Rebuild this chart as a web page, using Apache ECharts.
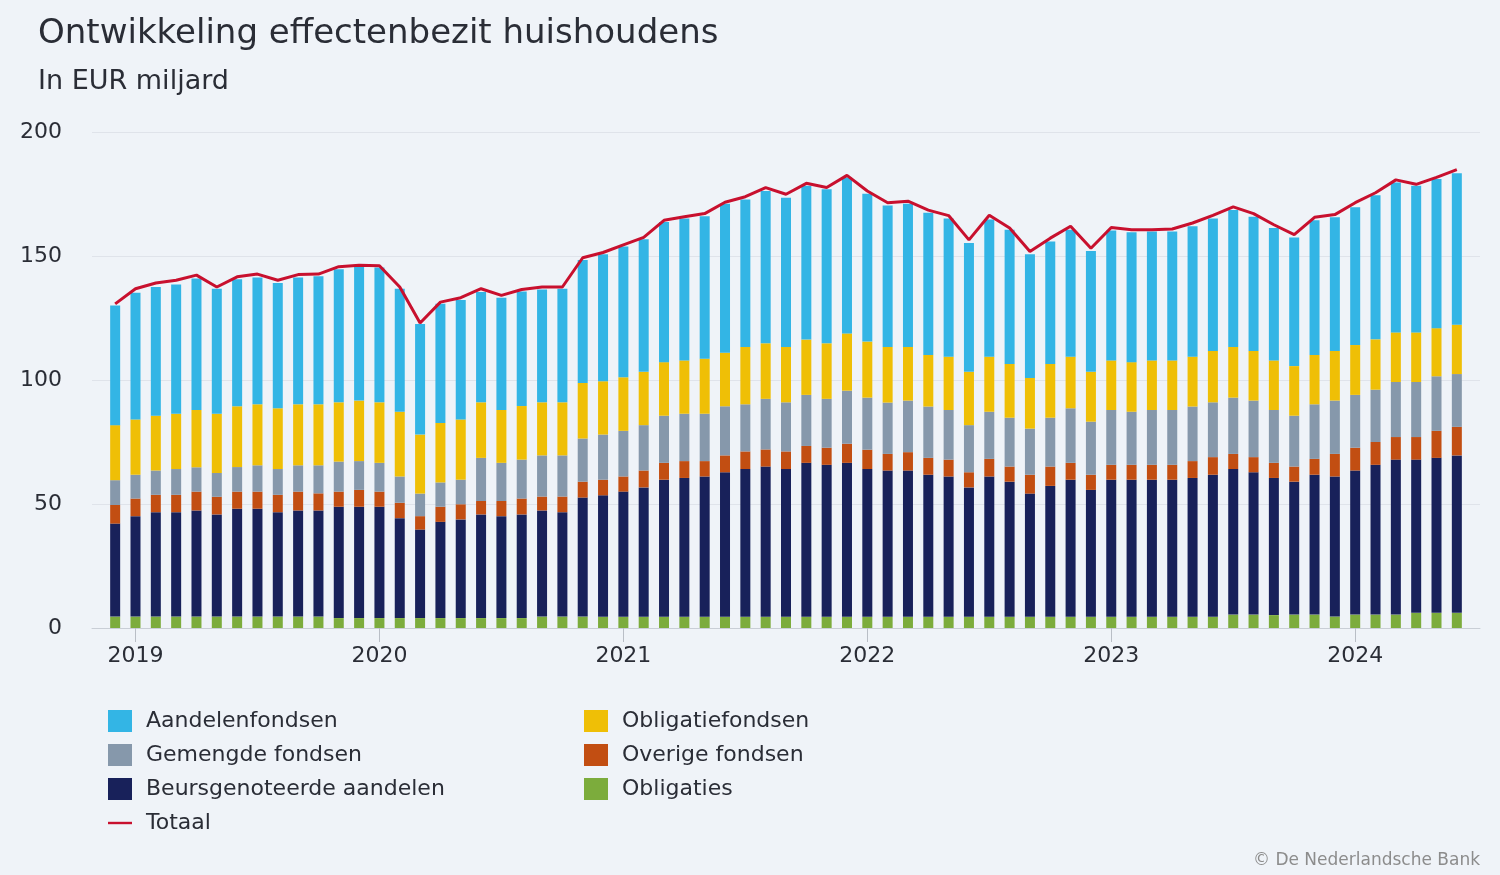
<!DOCTYPE html>
<html>
<head>
<meta charset="utf-8">
<title>Ontwikkeling effectenbezit huishoudens</title>
<script src="https://cdn.jsdelivr.net/npm/echarts@6/dist/echarts.min.js"></script>
<style>
  html, body { margin: 0; padding: 0; background: #eff3f8; }
  #chart { width: 1500px; height: 875px; }
</style>
</head>
<body>
<div id="chart"></div>
<script>
// maanden dec 2018 t/m jun 2024
var months = [];
for (var y = 2018; y <= 2024; y++) {
    for (var m = 1; m <= 12; m++) {
        if ((y == 2018 && m < 12) || (y == 2024 && m > 6)) continue;
        months.push(y + '-' + (m < 10 ? '0' + m : m));
    }
}

var obligaties = [4.6,4.6,4.6,4.6,4.6,4.6,4.6,4.6,4.6,4.6,4.6,4.0,4.0,4.0,4.0,4.0,4.0,4.0,4.0,4.0,4.0,4.6,4.6,4.6,
    4.5,4.5,4.5,4.5,4.5,4.5,4.5,4.5,4.5,4.5,4.5,4.5,4.5,4.5,4.5,4.5,4.5,4.5,4.5,4.5,4.5,4.5,4.5,4.5,4.5,4.5,4.5,4.5,4.5,4.5,4.5,
    5.4,5.4,5.2,5.4,5.4,4.6,5.4,5.4,5.4,6.1,6.1,6.1];
var beursgenoteerd = [37.5,40.5,42.1,42.1,42.8,41.2,43.5,43.5,42.1,42.8,42.8,44.9,44.9,44.9,40.3,35.7,38.8,39.8,41.8,41.1,41.8,42.8,42.1,48.0,
    49.0,50.5,52.2,55.3,56.0,56.6,58.3,59.6,60.6,59.6,62.1,61.3,62.1,59.6,59.0,59.0,57.3,56.6,52.2,56.6,54.5,49.7,52.8,55.3,51.2,
    55.3,55.3,55.3,55.3,56.0,57.3,58.7,57.4,55.3,53.6,56.4,56.5,58.1,60.4,62.5,61.8,62.5,63.5];
var overige = [7.5,7.1,7.0,7.0,7.6,7.1,6.9,6.9,7.0,7.6,6.9,6.1,6.8,6.1,6.2,5.4,6.1,6.1,5.4,6.1,6.4,5.6,6.3,6.4,
    6.3,6.1,6.8,6.8,6.8,6.2,6.8,7.1,6.9,7.1,6.8,6.9,7.7,7.8,6.7,7.4,6.8,6.8,6.1,7.1,6.1,7.6,7.8,6.8,6.1,
    6.0,6.0,6.0,6.0,6.8,7.1,6.1,6.1,6.1,6.1,6.4,9.1,9.2,9.2,9.1,9.1,10.9,11.5];
var gemengd = [10.0,9.6,9.8,10.4,9.8,9.6,9.9,10.6,10.4,10.6,11.3,12.1,11.6,11.6,10.6,9.1,9.8,9.9,17.4,15.4,15.7,16.6,16.6,17.4,
    18.2,18.4,18.3,19.0,19.1,19.1,19.8,19.0,20.4,19.8,20.6,19.7,21.4,21.0,20.7,20.8,20.7,20.0,19.0,19.0,19.7,18.6,19.7,22.0,21.4,
    22.1,21.4,22.1,22.1,22.0,22.1,22.7,22.8,21.3,20.5,22.0,21.5,21.3,21.1,22.2,22.2,22.0,21.3];
var obligatiefondsen = [22.2,22.3,22.1,22.3,23.1,23.9,24.5,24.6,24.5,24.6,24.6,23.9,24.4,24.4,26.1,23.8,24.0,24.3,22.4,21.3,21.6,21.4,21.4,22.4,
    21.5,21.6,21.5,21.6,21.5,22.2,21.6,23.1,22.4,22.3,22.3,22.4,23.1,22.6,22.4,21.6,20.8,21.5,21.5,22.2,21.7,20.4,21.7,20.8,20.1,
    20.0,20.0,20.0,20.0,20.1,20.7,20.4,20.0,20.0,20.0,19.9,20.0,20.1,20.3,20.0,20.0,19.4,19.9];
var aandelenfondsen = [48.2,51.1,51.9,52.1,53.0,50.4,51.2,51.1,50.5,51.1,51.6,53.7,54.0,54.4,49.6,44.6,48.0,48.2,44.5,45.3,46.2,45.5,45.8,49.6,
    51.2,52.7,53.5,56.5,57.2,57.4,60.1,59.5,61.4,60.2,62.0,62.1,62.9,59.6,57.1,57.8,57.3,55.7,51.9,55.3,54.1,49.9,49.3,51.2,48.7,
    52.4,52.4,52.0,52.0,52.6,53.4,55.2,54.1,53.4,51.9,54.3,53.9,55.6,58.1,60.4,59.1,60.1,61.1];
var totaal = [130.7,136.8,139.1,140.2,142.3,137.5,141.6,142.7,140.2,142.5,142.7,145.7,146.3,146.1,137.5,123.0,131.4,133.2,136.8,134.1,136.5,137.5,137.5,149.3,
    151.4,154.5,157.5,164.4,165.8,167.1,171.7,173.9,177.6,174.9,179.3,177.6,182.5,176.2,171.5,172.1,168.5,166.3,156.5,166.4,161.3,151.8,157.2,162.0,153.1,
    161.5,160.6,160.6,160.9,163.3,166.4,169.8,167.1,162.6,158.6,165.6,166.7,171.5,175.5,180.7,178.9,181.7,184.8];

var font = '"DejaVu Sans", Verdana, sans-serif';
var textColor = '#2a2d36';

function isJanuary(index, value) {
    return value.slice(5) == '01';
}

function barSeries(name, arr, color) {
    return {
        name: name,
        type: 'bar',
        stack: 'totaal',
        xAxisIndex: 1,
        yAxisIndex: 1,
        barWidth: 10,
        itemStyle: { color: color },
        data: arr,
    };
}

var legendText = { fontFamily: font, fontSize: 22, color: textColor, padding: [0, 0, 0, 9] };

var chart = echarts.init(document.getElementById('chart'));
var option = {
    backgroundColor: '#eff3f8',
    animation: false,
    textStyle: { fontFamily: font },
    title: [{
        text: 'Ontwikkeling effectenbezit huishoudens',
        left: 33, top: 12,
        textStyle: { fontFamily: font, fontSize: 34, fontWeight: 'normal', color: textColor }
    }, {
        text: 'In EUR miljard',
        left: 33, top: 63,
        textStyle: { fontFamily: font, fontSize: 27, fontWeight: 'normal', color: textColor }
    }, {
        text: '© De Nederlandsche Bank',
        right: 15, top: 847,
        textStyle: { fontFamily: font, fontSize: 17, fontWeight: 'normal', color: '#8c8c8c' }
    }],
    legend: [{
        orient: 'vertical',
        left: 103, top: 705,
        icon: 'rect',
        itemWidth: 24, itemHeight: 22, itemGap: 12,
        textStyle: legendText,
        data: ['Aandelenfondsen', 'Gemengde fondsen', 'Beursgenoteerde aandelen',
            { name: 'Totaal', icon: 'path://M0,0 L10,0 L10,1 L0,1 Z' }]
    }, {
        orient: 'vertical',
        left: 579, top: 705,
        icon: 'rect',
        itemWidth: 24, itemHeight: 22, itemGap: 12,
        textStyle: legendText,
        data: ['Obligatiefondsen', 'Overige fondsen', 'Obligaties']
    }],
    grid: [
        { left: 92, right: 20, top: 132, bottom: 247 },
        { left: 105, right: 33, top: 132, bottom: 247 }
    ],
    xAxis: [{
        type: 'value',
        gridIndex: 0,
        min: 0, max: 1,
        splitLine: { show: false },
        axisLine: { show: true, lineStyle: { color: '#c9ced6', width: 1 } },
        axisTick: { show: false },
        axisLabel: { show: false }
    }, {
        type: 'category',
        gridIndex: 1,
        data: months,
        axisLine: { show: false },
        axisTick: { show: true, alignWithLabel: true, interval: isJanuary, length: 14, lineStyle: { color: '#b9bec6' } },
        axisLabel: {
            interval: isJanuary,
            margin: 17,
            fontSize: 22,
            color: textColor,
            formatter: function (v) { return v.slice(0, 4); }
        }
    }],
    yAxis: [{
        type: 'value',
        gridIndex: 0,
        min: 0, max: 200, interval: 50,
        axisLine: { show: false },
        axisTick: { show: false },
        axisLabel: { fontSize: 22, color: textColor, margin: 30 },
        splitLine: { lineStyle: { color: '#dfe3ea', width: 1 } }
    }, {
        type: 'value',
        gridIndex: 1,
        min: 0, max: 200, interval: 50,
        show: false
    }],
    series: [
        barSeries('Obligaties', obligaties, '#7cac3c'),
        barSeries('Beursgenoteerde aandelen', beursgenoteerd, '#18215a'),
        barSeries('Overige fondsen', overige, '#c24e12'),
        barSeries('Gemengde fondsen', gemengd, '#8698ab'),
        barSeries('Obligatiefondsen', obligatiefondsen, '#efbf06'),
        barSeries('Aandelenfondsen', aandelenfondsen, '#33b5e5'),
        {
            name: 'Totaal',
            type: 'line',
            xAxisIndex: 1,
            yAxisIndex: 1,
            symbol: 'none',
            z: 5,
            itemStyle: { color: '#c8102e' },
            lineStyle: { color: '#c8102e', width: 3 },
            data: totaal,
        }
    ]
};
chart.setOption(option);
</script>
</body>
</html>
